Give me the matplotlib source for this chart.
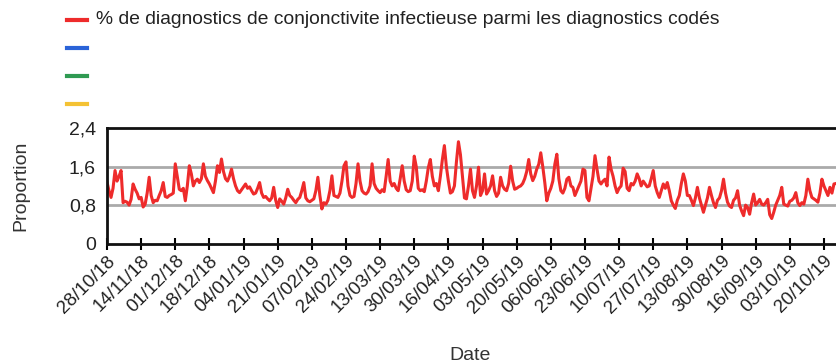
import numpy as np
import pandas as pd
import matplotlib
matplotlib.use('Agg')
import matplotlib.pyplot as plt
import matplotlib.dates as mdates
from matplotlib.lines import Line2D
from matplotlib.ticker import FuncFormatter

plt.rcParams['font.family'] = ['Liberation Sans', 'DejaVu Sans']

# daily share (%) of infectious conjunctivitis among coded diagnoses, from 28/10/2018
pct_conj = [
    1.28, 1.10, 0.96, 1.15, 1.52, 1.30, 1.40,
    1.52, 0.85, 0.88, 0.86, 0.80, 0.92, 1.24,
    1.13, 1.05, 0.93, 0.96, 0.76, 0.82, 1.05,
    1.38, 1.00, 0.85, 0.90, 0.89, 1.00, 1.10,
    1.27, 0.98, 0.96, 1.00, 1.02, 1.05, 1.66,
    1.40, 1.13, 1.10, 1.15, 0.89, 1.20, 1.62,
    1.45, 1.20, 1.30, 1.34, 1.27, 1.35, 1.66,
    1.40, 1.31, 1.24, 1.15, 1.06, 1.30, 1.62,
    1.48, 1.76, 1.50, 1.35, 1.30, 1.40, 1.55,
    1.35, 1.20, 1.10, 1.06, 1.12, 1.18, 1.24,
    1.15, 1.18, 1.10, 1.03, 1.05, 1.15, 1.27,
    1.05, 0.96, 0.98, 0.93, 0.89, 0.95, 1.17,
    0.90, 0.75, 0.93, 0.88, 0.82, 0.95, 1.13,
    1.00, 0.96, 0.90, 0.85, 0.92, 0.96, 1.10,
    1.27, 0.95, 0.89, 0.87, 0.90, 0.93, 1.10,
    1.38, 1.00, 0.72, 0.85, 0.82, 0.90, 1.10,
    1.41, 1.00, 0.98, 0.96, 1.05, 1.30, 1.62,
    1.70, 1.20, 1.00, 0.96, 0.98, 1.25, 1.66,
    1.30, 1.10, 1.05, 1.03, 1.08, 1.20, 1.66,
    1.25, 1.15, 1.10, 1.06, 1.12, 1.08, 1.40,
    1.75, 1.30, 1.20, 1.25, 1.15, 1.10, 1.35,
    1.62, 1.30, 1.12, 1.08, 1.10, 1.30, 1.82,
    1.60, 1.15, 1.10, 1.12, 1.08, 1.30, 1.58,
    1.75, 1.40, 1.20, 1.25, 1.10, 1.40, 1.75,
    2.04, 1.60, 1.30, 1.05, 1.08, 1.20, 1.70,
    2.12, 1.85, 1.40, 0.95, 0.93, 1.20, 1.55,
    1.10, 0.96, 1.20, 1.59, 1.00, 1.10, 1.45,
    1.03, 1.10, 1.20, 1.41, 1.10, 0.98, 1.05,
    1.38, 1.20, 1.13, 1.10, 1.25, 1.61, 1.30,
    1.13, 1.15, 1.18, 1.20, 1.25, 1.35, 1.50,
    1.75, 1.45, 1.31, 1.40, 1.55, 1.65, 1.89,
    1.60, 1.27, 0.89, 1.05, 1.15, 1.30, 1.65,
    1.86, 1.35, 1.10, 1.05, 1.15, 1.34, 1.38,
    1.20, 1.17, 1.00, 1.10, 1.20, 1.30, 1.55,
    1.52, 0.96, 0.89, 1.15, 1.40, 1.83, 1.55,
    1.30, 1.24, 1.30, 1.34, 1.20, 1.80, 1.55,
    1.40, 1.20, 1.06, 1.15, 1.20, 1.57, 1.50,
    1.15, 1.10, 1.25, 1.22, 1.30, 1.45, 1.35,
    1.20, 1.30, 1.24, 1.18, 1.20, 1.35, 1.52,
    1.20, 1.06, 0.96, 1.10, 1.24, 1.15, 1.27,
    1.10, 0.89, 0.80, 0.73, 0.90, 1.00, 1.25,
    1.45, 1.30, 1.00, 1.00, 0.90, 0.79, 0.95,
    1.17, 0.95, 0.80, 0.65, 0.80, 0.95, 1.17,
    1.00, 0.85, 0.75, 0.90, 0.95, 1.10, 1.34,
    1.05, 0.86, 0.78, 0.75, 0.90, 0.95, 1.10,
    0.80, 0.68, 0.58, 0.80, 0.75, 0.61, 0.85,
    1.03, 0.80, 0.85, 0.92, 0.82, 0.80, 0.85,
    0.92, 0.60, 0.52, 0.65, 0.80, 0.90, 1.00,
    1.17, 0.82, 0.80, 0.78, 0.88, 0.90, 0.95,
    1.06, 0.85, 0.79, 0.85, 0.82, 1.00, 1.34,
    1.10, 0.96, 0.93, 0.90, 0.86, 1.05, 1.34,
    1.20, 1.10, 1.00, 1.17, 1.05, 1.24, 1.25,
]
start_date = '2018-10-28'
series_labels = ['% de diagnostics de conjonctivite infectieuse parmi les diagnostics codés', '', '', '']
series_colors = ['#ee2b2b', '#2a63d8', '#2f9a52', '#f4c234']
y_ticks = [0, 0.8, 1.6, 2.4]

dates = pd.date_range(start_date, periods=len(pct_conj), freq='D')
tick_dates = pd.date_range(start_date, dates[-1], freq='17D')

W, H = 836, 364
fig = plt.figure(figsize=(W / 100, H / 100), dpi=100)
ax = fig.add_axes([107 / W, (H - 243.5) / H, 735 / W, 115.2 / H])

ax.plot(dates, pct_conj, color=series_colors[0], lw=2.2, solid_joinstyle='round')

ax.set_xlim(dates[0], dates[0] + pd.Timedelta(days=366))
ax.set_ylim(0, 2.4)
ax.set_yticks(y_ticks)
ax.yaxis.set_major_formatter(FuncFormatter(lambda v, p: ('%g' % v).replace('.', ',')))
ax.tick_params(axis='y', length=0, labelsize=14, pad=8, labelcolor='#222222')
ax.set_xticks(tick_dates)
ax.xaxis.set_major_formatter(mdates.DateFormatter('%d/%m/%y'))
ax.tick_params(axis='x', direction='inout', length=9, width=1.5, labelsize=13.5,
               labelcolor='#222222', pad=2)
for lab in ax.get_xticklabels():
    lab.set_rotation(45)
    lab.set_ha('right')
    lab.set_rotation_mode('anchor')

for v in y_ticks[1:-1]:
    ax.axhline(v, color='#aaaaaa', lw=2, zorder=0)
for side in ['top', 'bottom', 'left']:
    ax.spines[side].set_linewidth(2)
    ax.spines[side].set_color('#111111')
ax.spines['right'].set_visible(False)

ax.set_ylabel('Proportion', fontsize=14, color='#333333', labelpad=28)
fig.text(470 / W, 1 - 355 / H, 'Date', fontsize=14, color='#333333', ha='center', va='center')

# legend rows drawn by hand: one labelled series and three empty ones
for i, (lab, col) in enumerate(zip(series_labels, series_colors)):
    yf = 1 - (20 + 28 * i) / H
    fig.add_artist(Line2D([67 / W, 87 / W], [yf, yf], color=col, lw=3,
                          transform=fig.transFigure))
    if lab:
        fig.text(96 / W, yf, lab, fontsize=13.9, color='#222222', va='center', ha='left')

fig.savefig('out.png', dpi=100)
